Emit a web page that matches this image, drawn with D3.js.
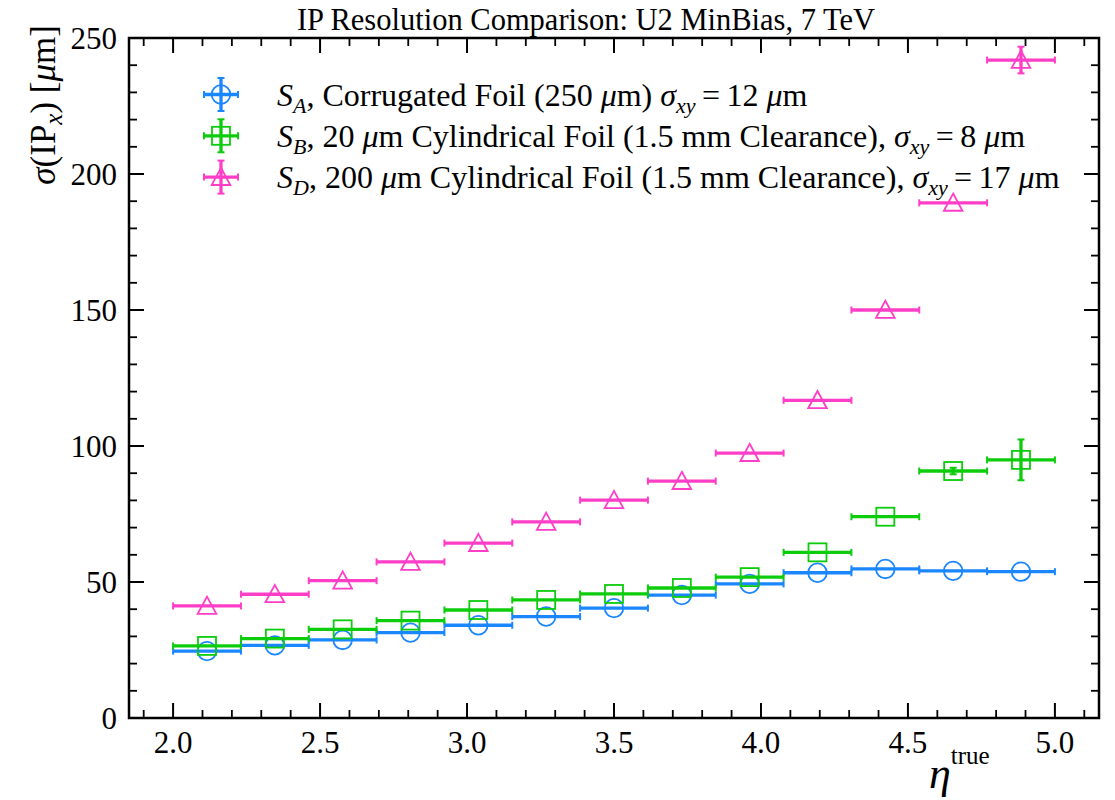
<!DOCTYPE html>
<html lang="en">
<head>
  <meta charset="UTF-8">
  <title>IP Resolution Comparison</title>
  <script src="https://d3js.org/d3.v7.min.js"></script>
  <style>
    body { margin: 0; background: #fff; }
    text, tspan { font-family: "Liberation Serif", "Times New Roman", serif; fill: #000; }
  </style>
</head>
<body>
  <svg id="chart" width="1115" height="800"></svg>
  <script>
    // eta bins: 13 equal bins between 2.0 and 5.0
    const binEdges = d3.range(14).map(i => 2.0 + i * 3 / 13);

    // sigma(IP_x) in micrometres per bin
    const valuesA = [24.6, 26.7, 28.7, 31.4, 34.1, 37.3, 40.4, 45.2, 49.3, 53.4, 54.8, 54.1, 53.8];
    const errorsA = [0, 0, 0, 0, 0, 0, 0, 0, 0, 0, 0, 0, 0];
    const valuesB = [26.5, 29.2, 32.6, 35.8, 39.7, 43.4, 45.6, 47.8, 51.8, 60.9, 74.0, 90.8, 94.9];
    const errorsB = [0, 0, 0, 0, 0, 0, 0, 0, 0, 0, 0, 1.2, 7.5];
    const valuesD = [41.2, 45.5, 50.5, 57.4, 64.3, 72.1, 80.1, 87.1, 97.4, 116.8, 150.0, 189.4, 241.9];
    const errorsD = [0, 0, 0, 0, 0, 0, 0, 0, 0, 0, 0, 0, 4.9];

    const xTicks = [2.0, 2.5, 3.0, 3.5, 4.0, 4.5, 5.0];
    const yTicks = [0, 50, 100, 150, 200, 250];

    const series = [
      { key: 'A', values: valuesA, errors: errorsA, color: '#1a86ff', marker: 'circle',
        label: [['S', 'i'], ['A', 'is'], [', Corrugated Foil (250 ', ''], ['\u03bc', 'i'], ['m) ', ''],
                ['\u03c3', 'i'], ['xy', 'is'], ['\u2009=\u200912 ', ''], ['\u03bc', 'i'], ['m', '']] },
      { key: 'B', values: valuesB, errors: errorsB, color: '#0ccc0c', marker: 'square',
        label: [['S', 'i'], ['B', 'is'], [', 20 ', ''], ['\u03bc', 'i'], ['m Cylindrical Foil (1.5 mm Clearance), ', ''],
                ['\u03c3', 'i'], ['xy', 'is'], ['\u2009=\u20098 ', ''], ['\u03bc', 'i'], ['m', '']] },
      { key: 'D', values: valuesD, errors: errorsD, color: '#ff3ec8', marker: 'triangle',
        label: [['S', 'i'], ['D', 'is'], [', 200 ', ''], ['\u03bc', 'i'], ['m Cylindrical Foil (1.5 mm Clearance), ', ''],
                ['\u03c3', 'i'], ['xy', 'is'], ['\u2009=\u200917 ', ''], ['\u03bc', 'i'], ['m', '']] }
    ];

    const svg = d3.select('#chart');
    const margin = { left: 129, right: 1099, top: 38, bottom: 718 };

    const x = d3.scaleLinear().domain([1.85, 5.15]).range([margin.left, margin.right]);
    const y = d3.scaleLinear().domain([0, 250]).range([margin.bottom, margin.top]);

    // ticks (all pointing inward, on all four sides)
    const ticks = svg.append('g').attr('stroke', '#000');
    const xMinor = d3.range(19, 52).map(v => v / 10).filter(v => Math.abs(v * 2 - Math.round(v * 2)) > 1e-6);
    const yMinor = d3.range(0, 251, 10).filter(v => v % 50 !== 0);

    xTicks.forEach(v => {
      ticks.append('line').attr('x1', x(v)).attr('x2', x(v)).attr('y1', margin.bottom).attr('y2', margin.bottom - 15).attr('stroke-width', 2);
      ticks.append('line').attr('x1', x(v)).attr('x2', x(v)).attr('y1', margin.top).attr('y2', margin.top + 15).attr('stroke-width', 2);
    });
    xMinor.forEach(v => {
      ticks.append('line').attr('x1', x(v)).attr('x2', x(v)).attr('y1', margin.bottom).attr('y2', margin.bottom - 8).attr('stroke-width', 1.8);
      ticks.append('line').attr('x1', x(v)).attr('x2', x(v)).attr('y1', margin.top).attr('y2', margin.top + 8).attr('stroke-width', 1.8);
    });
    yTicks.forEach(v => {
      ticks.append('line').attr('y1', y(v)).attr('y2', y(v)).attr('x1', margin.left).attr('x2', margin.left + 15).attr('stroke-width', 2);
      ticks.append('line').attr('y1', y(v)).attr('y2', y(v)).attr('x1', margin.right).attr('x2', margin.right - 15).attr('stroke-width', 2);
    });
    yMinor.forEach(v => {
      ticks.append('line').attr('y1', y(v)).attr('y2', y(v)).attr('x1', margin.left).attr('x2', margin.left + 8).attr('stroke-width', 1.8);
      ticks.append('line').attr('y1', y(v)).attr('y2', y(v)).attr('x1', margin.right).attr('x2', margin.right - 8).attr('stroke-width', 1.8);
    });

    // tick labels
    svg.append('g').selectAll('text').data(xTicks).enter().append('text')
      .attr('x', d => x(d)).attr('y', margin.bottom + 35)
      .attr('text-anchor', 'middle').attr('font-size', 31)
      .text(d => d.toFixed(1));
    svg.append('g').selectAll('text').data(yTicks).enter().append('text')
      .attr('x', margin.left - 12).attr('y', d => y(d) + 11)
      .attr('text-anchor', 'end').attr('font-size', 31)
      .text(d => d);

    // frame
    svg.append('rect')
      .attr('x', margin.left).attr('y', margin.top)
      .attr('width', margin.right - margin.left).attr('height', margin.bottom - margin.top)
      .attr('fill', 'none').attr('stroke', '#000').attr('stroke-width', 2.5);

    function drawMarker(g, type, cx, cy, color) {
      if (type === 'circle') {
        g.append('circle').attr('cx', cx).attr('cy', cy).attr('r', 9.3)
          .attr('fill', 'none').attr('stroke', color).attr('stroke-width', 1.8);
      } else if (type === 'square') {
        g.append('rect').attr('x', cx - 9).attr('y', cy - 9).attr('width', 18).attr('height', 18)
          .attr('fill', 'none').attr('stroke', color).attr('stroke-width', 1.8);
      } else {
        const s = 9.3;
        g.append('path')
          .attr('d', `M${cx},${cy - s} L${cx + s},${cy + s * 0.85} L${cx - s},${cy + s * 0.85} Z`)
          .attr('fill', 'none').attr('stroke', color).attr('stroke-width', 1.8);
      }
    }

    function errorCross(g, x0, x1, cx, y0, y1, cy, color) {
      g.append('line').attr('x1', x0).attr('x2', x1).attr('y1', cy).attr('y2', cy)
        .attr('stroke', color).attr('stroke-width', 3.3);
      [x0, x1].forEach(xx => g.append('line').attr('x1', xx).attr('x2', xx).attr('y1', cy - 3.5).attr('y2', cy + 3.5)
        .attr('stroke', color).attr('stroke-width', 2));
      if (Math.abs(y1 - y0) > 1) {
        g.append('line').attr('x1', cx).attr('x2', cx).attr('y1', y0).attr('y2', y1)
          .attr('stroke', color).attr('stroke-width', 3.3);
        [y0, y1].forEach(yy => g.append('line').attr('x1', cx - 3.5).attr('x2', cx + 3.5).attr('y1', yy).attr('y2', yy)
          .attr('stroke', color).attr('stroke-width', 2));
      }
    }

    // data
    series.forEach(s => {
      const g = svg.append('g').attr('class', 'series-' + s.key);
      s.values.forEach((v, i) => {
        const lo = binEdges[i], hi = binEdges[i + 1], mid = (lo + hi) / 2;
        errorCross(g, x(lo), x(hi), x(mid), y(v - s.errors[i]), y(v + s.errors[i]), y(v), s.color);
        drawMarker(g, s.marker, x(mid), y(v), s.color);
      });
    });

    // legend
    const legend = svg.append('g');
    series.forEach((s, i) => {
      const cy = 94.5 + i * 41.3;
      const cx = 221;
      errorCross(legend, cx - 17, cx + 17, cx, cy - 16.5, cy + 16.5, cy, s.color);
      drawMarker(legend, s.marker, cx, cy, s.color);
      const t = legend.append('text').attr('x', 277).attr('y', cy + 11).attr('font-size', 32);
      let sub = false;
      s.label.forEach(([str, style]) => {
        const ts = t.append('tspan').text(str);
        if (style.includes('i')) ts.attr('font-style', 'italic');
        if (style.includes('s')) {
          ts.attr('font-size', 22);
          if (!sub) ts.attr('dy', 7);
          sub = true;
        } else if (sub) {
          ts.attr('dy', -7);
          sub = false;
        }
      });
    });

    // title
    svg.append('text').attr('x', 586).attr('y', 30).attr('text-anchor', 'middle')
      .attr('font-size', 30.5).text('IP Resolution Comparison: U2 MinBias, 7 TeV');

    // y label
    const yl = svg.append('text')
      .attr('transform', 'translate(55,25) rotate(-90)')
      .attr('text-anchor', 'end').attr('font-size', 35);
    yl.append('tspan').attr('font-style', 'italic').text('\u03c3');
    yl.append('tspan').text('(IP');
    yl.append('tspan').attr('font-style', 'italic').attr('font-size', 25).attr('dy', 7).text('x');
    yl.append('tspan').attr('dy', -7).text(') [');
    yl.append('tspan').attr('font-style', 'italic').text('\u03bc');
    yl.append('tspan').text('m]');

    // x label
    const xl = svg.append('text').attr('x', 929).attr('y', 788).attr('text-anchor', 'start');
    xl.append('tspan').attr('font-family', 'DejaVu Serif').attr('font-style', 'italic').attr('font-size', 44).text('\u03b7');
    xl.append('tspan').attr('font-size', 25).attr('dy', -24).text('true');
  </script>
</body>
</html>
